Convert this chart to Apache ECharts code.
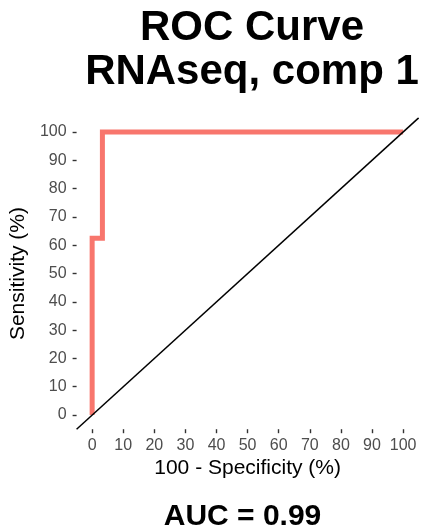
<!DOCTYPE html>
<html>
<head>
<meta charset="utf-8">
<script src="https://cdn.jsdelivr.net/npm/echarts@6/dist/echarts.min.js"></script>
<style>
  html, body { margin: 0; padding: 0; background: #fff; }
  #roc-chart { width: 425px; height: 531px; }
</style>
</head>
<body>
<div id="roc-chart"></div>
<script>
// ROC curve points (100 - specificity, sensitivity)
const fpr = [0, 0, 3.3, 3.3, 100];
const tpr = [0, 62.5, 62.5, 100, 100];

// reference diagonal, spans the whole panel
const diagX = [-5, 105];
const diagY = [-5, 105];

// tick labels on both axes
const ticks = [0, 10, 20, 30, 40, 50, 60, 70, 80, 90, 100];

const titleLines = ["ROC Curve", "RNAseq, comp 1"];
const aucText = "AUC = 0.99";

const chart = echarts.init(document.getElementById("roc-chart"));

const axisCommon = {
  type: "value",
  min: -5,
  max: 105,
  nameLocation: "middle",
  nameTextStyle: { fontFamily: "Liberation Sans", fontSize: 21, color: "#000" },
  axisLine: { show: false, onZero: false },
  splitLine: { show: false },
  axisTick: {
    show: true,
    length: 4,
    customValues: ticks,
    lineStyle: { color: "#333", width: 1.4 }
  },
  axisLabel: {
    customValues: ticks,
    fontFamily: "Liberation Sans",
    fontSize: 16,
    color: "#4d4d4d"
  }
};

const option = {
  backgroundColor: "#fff",
  animation: false,
  grid: { left: 74.35, right: 6.35, top: 117.9, bottom: 101.8 },
  xAxis: Object.assign({}, axisCommon, {
    name: "100 - Specificity (%)",
    nameGap: 28,
    axisLabel: Object.assign({}, axisCommon.axisLabel, { margin: 8 })
  }),
  yAxis: Object.assign({}, axisCommon, {
    name: "Sensitivity (%)",
    nameGap: 43,
    nameRotate: 90,
    axisLabel: Object.assign({}, axisCommon.axisLabel, { margin: 10 })
  }),
  graphic: [
    {
      type: "text", x: 252, y: 28,
      style: { text: titleLines[0], fontFamily: "Liberation Sans", fontWeight: "bold", fontSize: 42,
               fill: "#000", textAlign: "center", textVerticalAlign: "middle" }
    },
    {
      type: "text", x: 252, y: 72,
      style: { text: titleLines[1], fontFamily: "Liberation Sans", fontWeight: "bold", fontSize: 42,
               fill: "#000", textAlign: "center", textVerticalAlign: "middle" }
    },
    {
      type: "text", x: 242.5, y: 516.5,
      style: { text: aucText, fontFamily: "Liberation Sans", fontWeight: "bold", fontSize: 30,
               fill: "#000", textAlign: "center", textVerticalAlign: "middle" }
    }
  ],
  series: [
    {
      name: "ROC",
      type: "line",
      data: fpr.map((x, i) => [x, tpr[i]]),
      showSymbol: false,
      lineStyle: { color: "#F8766D", width: 5, join: "miter", cap: "butt" },
      z: 2
    },
    {
      name: "diagonal",
      type: "line",
      data: diagX.map((x, i) => [x, diagY[i]]),
      showSymbol: false,
      lineStyle: { color: "#000", width: 1.5 },
      z: 3
    }
  ]
};

chart.setOption(option);
</script>
</body>
</html>
